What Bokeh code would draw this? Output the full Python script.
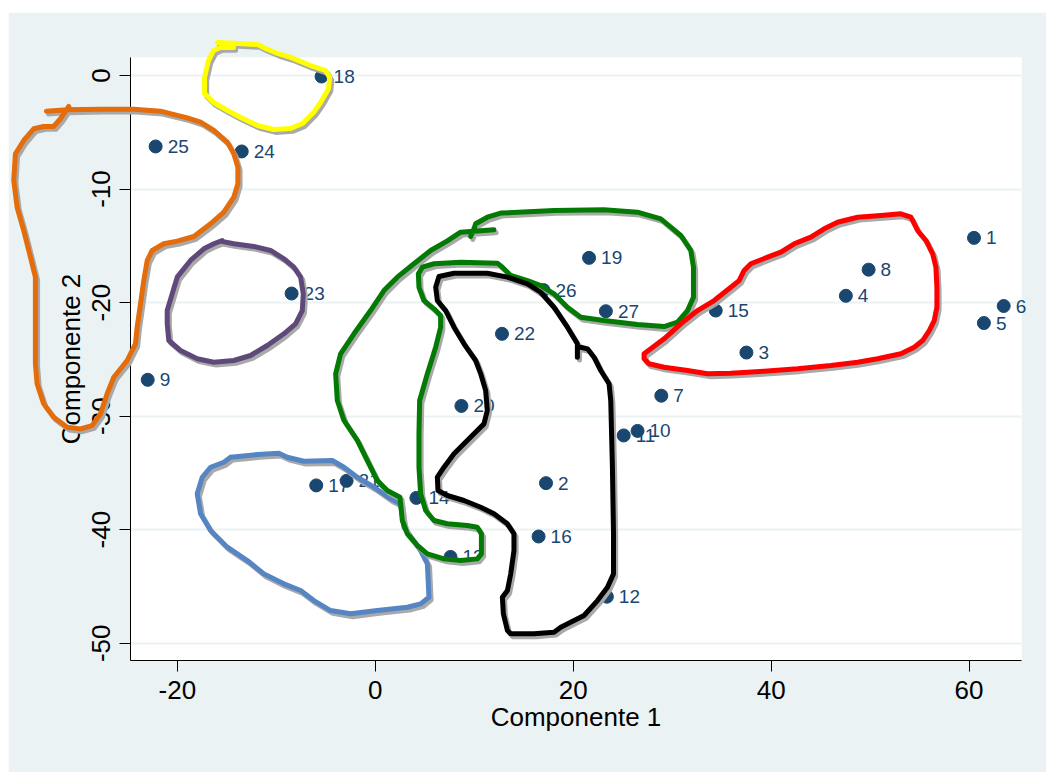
from bokeh.plotting import figure
from bokeh.models import ColumnDataSource, FixedTicker, Range1d, Spacer
from bokeh.layouts import column, row
from bokeh.transform import dodge
from bokeh.core.properties import value
from bokeh.embed import file_html
from bokeh.resources import INLINE

# ---- data: scores on the first two components ----
point_labels = [str(i) for i in range(1, 28)]
comp1 = [60.5, 17.25, 37.5, 47.55, 61.5, 63.5, 28.9, 49.85, -23.0, 26.5,
         25.1, 23.4, 7.6, 4.15, 34.4, 16.5, -5.97, -5.43, 21.6, 8.7,
         -2.9, 12.8, -8.46, -13.5, -22.2, 17.0, 23.3]
comp2 = [-14.3, -35.9, -24.4, -19.4, -21.8, -20.3, -28.2, -17.1, -26.8, -31.3,
         -31.7, -45.9, -42.4, -37.2, -20.7, -40.6, -36.1, -0.09, -16.06, -29.1,
         -35.7, -22.75, -19.2, -6.69, -6.25, -18.9, -20.76]

x_ticks = [-20, 0, 20, 40, 60]
y_ticks = [0, -10, -20, -30, -40, -50]

# ---- hand-drawn cluster outlines (data units) ----
yellow_x = [-15.95, -13.92, -11.9, -11.09, -9.88, -8.56, -6.54, -5.02, -4.62, -4.72,
            -5.53, -6.24, -7.35, -8.56, -10.28, -11.9, -13.62, -14.94, -16.35, -17.26,
            -17.26, -16.86, -16.35, -15.64, -14.33]
yellow_y = [2.91, 2.82, 2.73, 2.38, 1.94, 1.59, 0.88, 0.44, -0.18, -1.14,
            -2.38, -3.26, -4.23, -4.67, -4.76, -4.4, -3.7, -3.08, -2.38, -1.59,
            -0.18, 1.32, 2.2, 2.47, 2.47]

orange_x = [-33.24, -31.14, -27.78, -24.41, -21.71, -19.01, -17.66, -16.32, -14.96, -14.3,
            -13.89, -13.89, -14.3, -15.31, -16.65, -18.34, -20.02, -21.38, -22.55, -23.05,
            -23.4, -23.73, -24.07, -24.24, -25.08, -26.43, -27.1, -27.78, -28.62, -29.8,
            -31.14, -32.5, -33.51, -34.18, -34.35, -34.35, -34.35, -34.85, -35.53, -36.2,
            -36.54, -36.37, -35.53, -34.52, -33.51, -32.5, -31.82, -30.98]
orange_y = [-3.14, -3.02, -2.97, -2.97, -3.14, -3.73, -4.11, -4.84, -5.87, -6.9,
            -8.08, -9.54, -10.72, -12.04, -13.06, -14.18, -14.59, -14.82, -15.41, -16.29,
            -18.06, -20.11, -22.17, -23.63, -25.1, -26.57, -28.03, -29.8, -30.83, -31.12,
            -30.98, -30.1, -28.92, -27.15, -25.39, -22.46, -17.76, -16.0, -13.65, -11.6,
            -9.25, -6.9, -5.72, -4.69, -4.49, -4.49, -3.81, -2.73]

purple_x = [-15.64, -14.3, -12.28, -10.59, -9.24, -8.23, -7.55, -7.28, -7.38, -8.06,
            -9.24, -10.92, -12.61, -14.3, -16.32, -18.0, -19.69, -20.87, -21.03, -21.03,
            -20.53, -20.02, -18.68, -17.33, -16.32, -15.47]
purple_y = [-14.59, -14.82, -15.06, -15.41, -16.14, -16.88, -17.76, -19.23, -20.7, -21.87,
            -22.75, -23.78, -24.66, -25.1, -25.25, -24.95, -24.22, -23.34, -21.87, -20.7,
            -19.23, -17.76, -16.29, -15.26, -14.82, -14.53]

blue_x = [-14.63, -11.93, -9.75, -8.9, -7.22, -4.35, -3.17, -1.82, -0.14, 1.55,
          2.56, 2.89, 4.58, 5.26, 5.42, 4.58, 3.24, 0.2, -2.5, -4.52,
          -6.21, -7.55, -9.24, -11.26, -12.94, -14.96, -16.65, -17.66, -18.0, -17.49,
          -16.65, -15.31, -14.63]
blue_y = [-33.62, -33.38, -33.27, -33.62, -33.97, -33.91, -34.5, -35.38, -36.26, -37.28,
          -37.72, -39.78, -41.84, -43.01, -45.95, -46.53, -46.83, -47.12, -47.41, -47.12,
          -46.24, -45.36, -44.77, -43.89, -42.72, -41.54, -40.07, -38.6, -36.84, -35.38,
          -34.5, -34.06, -33.62]

green_x = [11.99, 8.62, 7.28, 5.59, 3.9, 2.22, 0.87, -0.48, -2.16, -3.51,
           -4.01, -3.84, -3.17, -1.82, -0.81, 0.2, 1.21, 2.49, 2.73, 3.24,
           4.25, 5.26, 6.94, 8.62, 10.31, 10.72, 10.72, 10.31, 9.3, 7.28,
           5.93, 5.09, 4.58, 4.41, 4.41, 4.48, 5.26, 6.1, 6.6, 6.6,
           5.93, 4.91, 4.41, 4.35, 4.75, 5.93, 8.62, 12.34, 12.84, 13.68,
           15.37, 16.71, 18.06, 19.41, 20.76, 23.11, 26.49, 29.18, 30.54, 31.55,
           32.15, 32.15, 31.88, 30.87, 29.86, 28.85, 26.49, 23.11, 18.06, 12.67,
           11.32, 10.14, 9.97, 9.64]
green_y = [-13.59, -13.8, -14.56, -15.41, -16.58, -17.76, -18.94, -20.7, -22.75, -24.51,
           -26.27, -28.62, -30.38, -32.14, -33.91, -35.67, -36.55, -37.14, -39.19, -40.37,
           -41.39, -42.13, -42.57, -42.72, -42.57, -42.13, -40.37, -39.78, -39.63, -39.48,
           -39.19, -38.31, -36.84, -34.5, -31.56, -28.62, -26.27, -23.93, -22.17, -21.14,
           -20.55, -19.82, -18.65, -17.47, -16.88, -16.58, -16.44, -16.53, -16.88, -17.61,
           -18.06, -18.5, -19.23, -20.41, -21.29, -21.58, -21.93, -22.11, -21.73, -20.7,
           -19.53, -16.88, -15.41, -14.09, -13.36, -12.62, -12.04, -11.83, -11.89, -12.12,
           -12.48, -13.06, -13.5, -14.18]

black_x = [20.42, 20.42, 19.41, 18.06, 16.71, 15.37, 13.35, 11.32, 7.95, 6.43,
           6.1, 6.27, 7.11, 7.95, 8.96, 10.14, 10.65, 11.15, 11.32, 10.98,
           9.97, 8.96, 7.95, 6.94, 6.27, 6.33, 7.28, 8.96, 10.65, 11.99,
           13.35, 14.01, 14.01, 13.68, 13.35, 12.84, 12.94, 13.35, 13.68, 16.04,
           18.06, 18.74, 21.09, 22.45, 23.46, 24.07, 24.07, 23.96, 23.79, 23.62,
           22.78, 22.1, 21.44, 20.76]
black_y = [-24.81, -23.63, -22.17, -20.41, -19.09, -18.35, -17.76, -17.41, -17.41, -17.7,
           -18.65, -19.82, -20.7, -22.17, -23.63, -25.1, -26.27, -27.74, -29.5, -30.68,
           -31.56, -32.44, -33.32, -34.5, -35.38, -36.55, -36.99, -37.43, -38.02, -38.6,
           -39.48, -40.37, -41.84, -43.89, -45.36, -45.95, -47.41, -48.88, -49.17, -49.17,
           -49.03, -48.59, -47.56, -46.24, -45.07, -43.89, -40.37, -34.5, -28.62, -27.15,
           -25.98, -24.81, -24.07, -23.93]

red_x = [27.5, 29.18, 30.87, 32.56, 34.24, 35.93, 36.76, 37.27, 37.95, 39.64,
         40.98, 42.33, 44.01, 45.36, 46.71, 48.74, 51.09, 53.11, 54.12, 54.8,
         55.64, 56.32, 56.65, 56.75, 56.75, 56.48, 55.98, 55.31, 54.46, 53.11,
         50.76, 48.74, 46.04, 42.67, 39.29, 35.93, 33.57, 31.55, 29.18, 27.66,
         27.16, 27.16, 27.5]
red_y = [-24.28, -23.19, -21.87, -20.7, -19.82, -18.65, -18.06, -17.17, -16.58, -16.0,
         -15.56, -14.82, -14.24, -13.5, -12.92, -12.48, -12.33, -12.18, -12.48, -13.65,
         -14.53, -15.7, -16.88, -18.65, -20.41, -21.58, -22.46, -23.34, -23.93, -24.51,
         -24.95, -25.25, -25.54, -25.83, -26.04, -26.22, -26.27, -25.98, -25.69, -25.39,
         -24.95, -24.51, -24.28]

loops = [
    (orange_x, orange_y, "#E46C0A"),
    (yellow_x, yellow_y, "#FFFF00"),
    (purple_x, purple_y, "#5F497A"),
    (blue_x, blue_y, "#5685C4"),
    (green_x, green_y, "#037A03"),
    (black_x, black_y, "#000000"),
    (red_x, red_y, "#FF0000"),
]

BG = "#EAF2F3"
MARK = "#1A476F"
FONT = "Liberation Sans"

p = figure(width=1038, height=760, output_backend="svg", toolbar_location=None,
           x_range=Range1d(-24.74, 65.3), y_range=Range1d(-51.52, 1.585),
           min_border_left=122, min_border_right=25, min_border_top=45,
           min_border_bottom=112)
p.border_fill_color = BG
p.background_fill_color = "white"
p.outline_line_color = None

p.xgrid.visible = False
p.ygrid.ticker = FixedTicker(ticks=y_ticks)
p.ygrid.grid_line_color = BG
p.ygrid.grid_line_width = 2

p.xaxis.ticker = FixedTicker(ticks=x_ticks)
p.yaxis.ticker = FixedTicker(ticks=y_ticks)
p.xaxis.major_label_overrides = {t: str(t) for t in x_ticks}
p.yaxis.major_label_overrides = {t: str(t) for t in y_ticks}
p.xaxis.axis_label = "Componente 1"
p.yaxis.axis_label = "Componente 2"
p.yaxis.major_label_orientation = "vertical"
for ax in (p.xaxis, p.yaxis):
    ax.axis_line_color = "black"
    ax.axis_line_width = 1
    ax.major_tick_line_color = "black"
    ax.major_tick_out = 11
    ax.major_tick_in = 0
    ax.minor_tick_line_color = None
    ax.major_label_text_font = FONT
    ax.major_label_text_font_size = "26px"
    ax.major_label_text_color = "black"
    ax.axis_label_text_font = FONT
    ax.axis_label_text_font_size = "26px"
    ax.axis_label_text_font_style = "normal"
    ax.axis_label_text_color = "black"
    ax.major_label_standoff = 9
    ax.axis_label_standoff = 4
p.xaxis.axis_label_standoff = 0

src = ColumnDataSource(dict(x=comp1, y=comp2, lab=point_labels))
p.scatter("x", "y", source=src, size=13, color=MARK, line_color=MARK)
p.text("x", "y", text="lab", source=src, x_offset=12, text_baseline="middle",
       text_align="left", text_color=MARK, text_font=value(FONT),
       text_font_size="19px", level="annotation")

for lx, ly, col in loops:
    s = ColumnDataSource(dict(x=lx, y=ly))
    p.line(dodge("x", 0.22), dodge("y", -0.25), source=s, line_color="#A9A9A9",
           line_width=5, line_join="round", line_cap="round", level="overlay")
    p.line("x", "y", source=s, line_color=col, line_width=5,
           line_join="round", line_cap="round", level="overlay")

layout = row(Spacer(width=8), column(Spacer(height=12), p))
open("out.html", "w").write(file_html(layout, INLINE))
